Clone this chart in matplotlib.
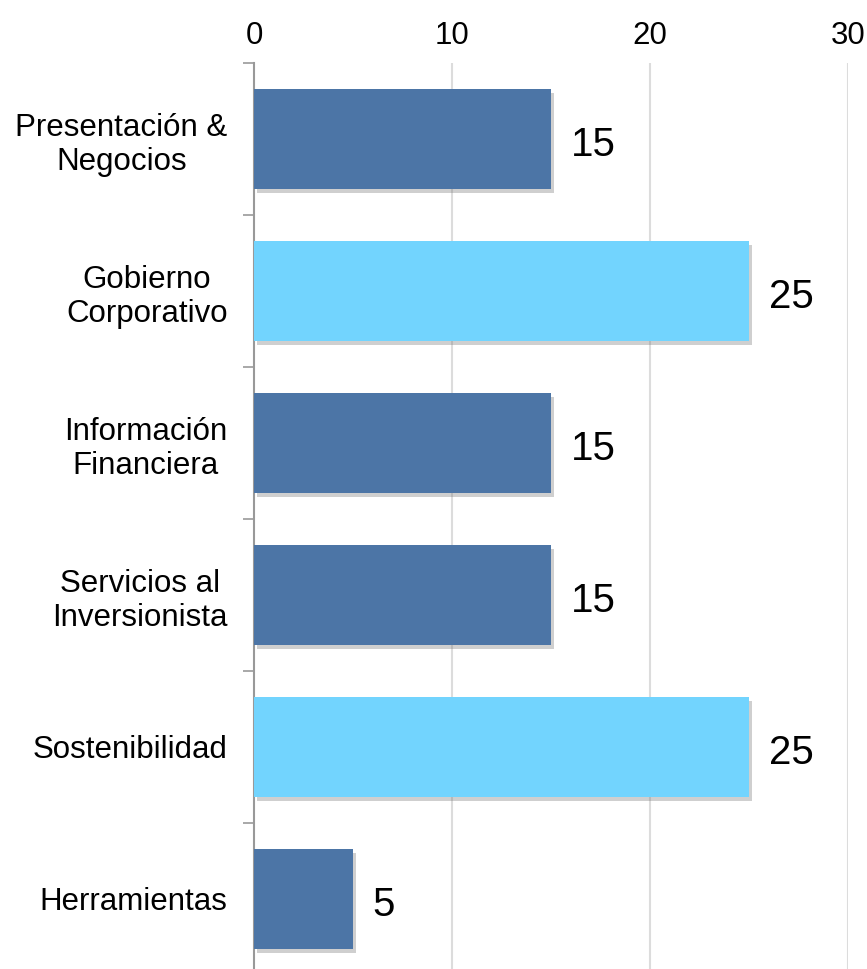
import matplotlib.pyplot as plt
import matplotlib.patheffects as pe
import numpy as np

# Data
categories = ['Presentación &\nNegocios', 'Gobierno\nCorporativo', 'Información\nFinanciera',
              'Servicios al\nInversionista', 'Sostenibilidad', 'Herramientas']
values = [15, 25, 15, 15, 25, 5]
bar_colors = ['#4C75A6', '#72D4FE', '#4C75A6', '#4C75A6', '#72D4FE', '#4C75A6']

plt.rcParams['font.family'] = ['Liberation Sans', 'DejaVu Sans']

fig = plt.figure(figsize=(8.67, 9.69), dpi=100)
ax = fig.add_axes([254 / 867, -6 / 969, (848 - 254) / 867, (975 - 63) / 969])

y = np.arange(len(categories))
bars = ax.barh(y, values, height=0.66, color=bar_colors, zorder=3)
for b in bars:
    b.set_path_effects([pe.SimplePatchShadow(offset=(2, -3), shadow_rgbFace='#777777', alpha=0.35),
                        pe.Normal()])

# value labels
for yi, v in zip(y, values):
    ax.text(v + 1.0, yi + 0.04, str(v), va='center', ha='left', fontsize=29, color='black')

ax.set_xlim(0, 30)
ax.set_ylim(len(categories) - 0.5, -0.5)

ax.xaxis.tick_top()
ax.set_xticks([0, 10, 20, 30])
ax.tick_params(axis='x', length=0, labelsize=22.5, pad=9)
ax.grid(axis='x', color='#dcdcdc', linewidth=1.5, zorder=0)
ax.xaxis.get_gridlines()[0].set_visible(False)

ax.set_yticks(y)
ax.set_yticklabels(categories, fontsize=22.5, multialignment='center', linespacing=1.2)
ax.tick_params(axis='y', which='major', length=0, pad=19)
ax.set_yticks(np.arange(-0.5, len(categories)), minor=True)
ax.tick_params(axis='y', which='minor', length=8, width=1.2, color='#999999')

for s in ['top', 'right', 'bottom']:
    ax.spines[s].set_visible(False)
ax.spines['left'].set_color('#999999')
ax.spines['left'].set_linewidth(1.5)

fig.savefig('out.png', dpi=100)
